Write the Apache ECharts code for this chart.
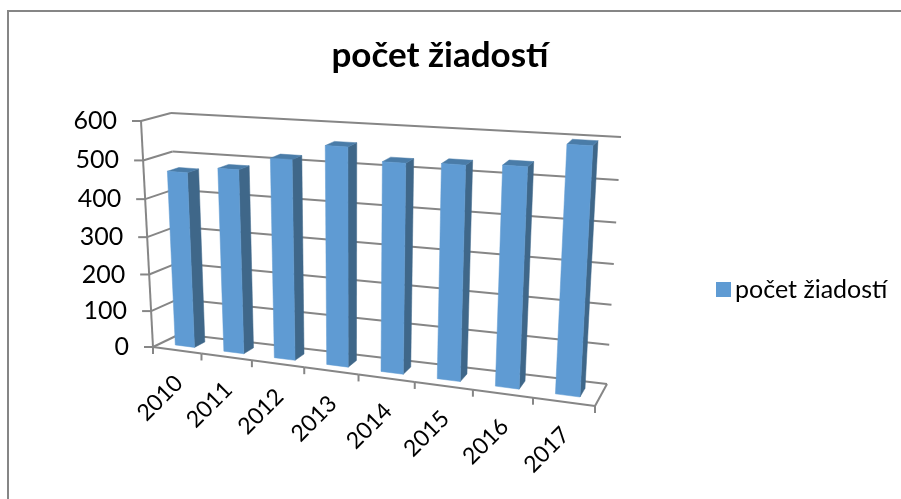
<!DOCTYPE html>
<html>
<head>
<meta charset="utf-8">
<style>
html, body { margin: 0; padding: 0; background: #fff; }
#chart { width: 901px; height: 499px; }
</style>
<script src="https://cdn.jsdelivr.net/npm/echarts@6/dist/echarts.min.js"></script>
</head>
<body>
<div id="chart"></div>
<script>
const categories = ['2010', '2011', '2012', '2013', '2014', '2015', '2016', '2017'];
const requests = [468, 485, 520, 560, 530, 535, 541, 598];
const yTicks = [0, 100, 200, 300, 400, 500, 600];
const seriesName = 'počet žiadostí';

// corners of the 3D box on screen, front/back + floor/ceiling
const box = {
	floorFL: [153, 347], floorFR: [595, 406], floorBL: [180, 334], floorBR: [607, 384],
	ceilFL: [141, 121], ceilFR: [609, 150], ceilBL: [171, 113], ceilBR: [621, 137]
};
const lineColor = '#868686';
const faceColor = '#5F9BD3';
const sideColor = '#3F6789';
const topColor = '#4A7CA8';
const depthFront = 0.3;
const depthBack = 0.7;

function mix(a, b, t) {
	return [a[0] + (b[0] - a[0]) * t, a[1] + (b[1] - a[1]) * t];
}
// u along categories, v up the value axis, w into the depth
function project(u, v, w) {
	const uu = u - 0.14 * u * (1 - u);
	const vv = v - 0.056 * v * (1 - v);
	const floor = mix(mix(box.floorFL, box.floorFR, uu), mix(box.floorBL, box.floorBR, uu), w);
	const ceil = mix(mix(box.ceilFL, box.ceilFR, uu), mix(box.ceilBL, box.ceilBR, uu), w);
	return mix(floor, ceil, vv);
}
function toUnit(params, pt) {
	const r = params.coordSys;
	return [(pt[0] - r.x) / r.width, 1 - (pt[1] - r.y) / r.height];
}
function poly(points, fill) {
	return { type: 'polygon', shape: { points: points }, style: { fill: fill, stroke: fill, lineWidth: 0.5 } };
}
function line(a, b) {
	return { type: 'line', shape: { x1: a[0], y1: a[1], x2: b[0], y2: b[1] }, style: { stroke: lineColor, lineWidth: 2 } };
}

function renderWall(params, api) {
	const val = api.value(0);
	const v = toUnit(params, api.coord([0, val]))[1];
	const a = project(0, v, 0);
	const b = project(0, v, 1);
	const c = project(1, v, 1);
	return {
		type: 'group',
		children: [
			line(a, b),
			line(b, c),
			line([a[0] - 9, a[1]], a),
			{
				type: 'text',
				style: {
					x: a[0] - 24, y: a[1], text: String(val), fill: '#000',
					font: '25px Lato', align: 'right', verticalAlign: 'middle'
				}
			}
		]
	};
}

function renderFloor(params, api) {
	const i = api.value(0);
	const band = api.size([1, 0])[0];
	const c = toUnit(params, api.coord([i, 0]));
	const du = band / params.coordSys.width;
	const mid = project(c[0], 0, 0);
	const right = project(c[0] + du / 2, 0, 0);
	const children = [
		line(project(c[0] - du / 2, 0, 0), right),
		line(right, [right[0], right[1] + 7]),
		{
			type: 'text',
			x: mid[0] - 17, y: mid[1] + 48, rotation: Math.PI / 4,
			style: {
				x: 0, y: 0, text: categories[i], fill: '#000',
				font: '23px Lato', align: 'center', verticalAlign: 'middle'
			}
		}
	];
	if (i === 0) {
		const left = project(0, 0, 0);
		children.push(line(left, [left[0], left[1] + 7]));
		children.push(line(project(0, 0, 0), project(0, 1, 0)));
	}
	if (i === categories.length - 1) {
		children.push(line(project(1, 0, 0), project(1, 0, 1)));
	}
	return { type: 'group', children: children };
}

function renderBar(params, api) {
	const i = api.value(0);
	const band = api.size([1, 0])[0] / params.coordSys.width;
	const p = toUnit(params, api.coord([i, api.value(1)]));
	const half = band * 0.4 / 2;
	const u0 = p[0] - half;
	const u1 = p[0] + half;
	const v = p[1];
	return {
		type: 'group',
		children: [
			poly([project(u1, 0, depthFront), project(u1, 0, depthBack), project(u1, v, depthBack), project(u1, v, depthFront)], sideColor),
			poly([project(u0, v, depthFront), project(u1, v, depthFront), project(u1, v, depthBack), project(u0, v, depthBack)], topColor),
			poly([project(u0, 0, depthFront), project(u1, 0, depthFront), project(u1, v, depthFront), project(u0, v, depthFront)], faceColor)
		]
	};
}

const chart = echarts.init(document.getElementById('chart'));
chart.setOption({
	animation: false,
	backgroundColor: '#fff',
	title: {
		text: seriesName,
		left: 435, top: 33, textAlign: 'center',
		textStyle: { fontFamily: 'Lato', fontSize: 35, fontWeight: 'bold', color: '#000' }
	},
	legend: {
		left: 716, top: 277,
		itemWidth: 15, itemHeight: 15, itemGap: 0,
		icon: 'rect',
		padding: 0,
		data: [seriesName],
		textStyle: { fontFamily: 'Lato', fontSize: 25, color: '#000', padding: [0, 0, 0, -1] }
	},
	grid: { left: 153, top: 121, width: 442, height: 226 },
	xAxis: { type: 'category', data: categories, show: false },
	yAxis: { type: 'value', min: 0, max: 600, interval: 100, show: false },
	graphic: [
		{ type: 'line', silent: true, shape: { x1: 7, y1: 11, x2: 901, y2: 11 }, style: { stroke: '#868686', lineWidth: 2 } },
		{ type: 'line', silent: true, shape: { x1: 8, y1: 10, x2: 8, y2: 499 }, style: { stroke: '#868686', lineWidth: 2 } }
	],
	series: [
		{ type: 'custom', silent: true, renderItem: renderWall, data: yTicks.map(t => [t]), encode: { y: 0 } },
		{ type: 'custom', silent: true, renderItem: renderFloor, data: categories.map((c, i) => [i]), encode: { x: 0 } },
		{
			type: 'custom', name: seriesName, renderItem: renderBar,
			itemStyle: { color: faceColor },
			data: requests.map((r, i) => [i, r]), encode: { x: 0, y: 1 }
		}
	]
});
</script>
</body>
</html>
